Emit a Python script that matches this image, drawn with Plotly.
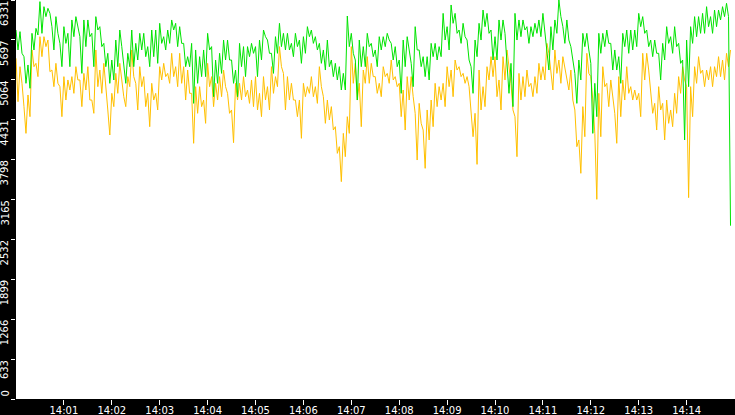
import pandas as pd
import plotly.graph_objects as go

# two samples per 5 s step (upper / lower reading of each column), 14:00:00 -> 14:15:00
green = [
    5855, 5538, 5829, 5485, 5432, 5009, 5300, 4930, 5802, 5538,
    5881, 5776, 6305, 5802, 6225, 6067, 6199, 6119, 5908, 5538,
    6067, 5802, 5643, 5273, 5908, 5643, 5802, 5273, 6014, 5749,
    6067, 5908, 5749, 5167, 6014, 5591, 6014, 5749, 5802, 5273,
    6067, 5855, 5908, 5591, 5643, 5273, 5485, 5009, 5379, 5062,
    5696, 5273, 5855, 5591, 5273, 5009, 5485, 5273, 5855, 5273,
    5643, 5379, 5802, 5538, 5802, 5432, 5591, 5273, 5855, 5432,
    5855, 5326, 5961, 5643, 5749, 5538, 5855, 5643, 6014, 5855,
    5961, 5591, 5908, 5643, 5643, 5273, 5432, 5273, 5643, 4691,
    5538, 5009, 5432, 5115, 5538, 5115, 5802, 5538, 5591, 4797,
    5379, 5009, 5485, 5167, 5696, 5379, 5696, 5379, 5379, 5009,
    5220, 4797, 5643, 5273, 5591, 5115, 5591, 5432, 5643, 5485,
    5591, 5115, 5696, 5379, 5855, 5749, 5696, 5485, 5485, 5167,
    5749, 5485, 5961, 5591, 5802, 5538, 5802, 5538, 5643, 5432,
    5802, 5591, 5696, 5326, 5749, 5485, 5908, 5749, 5855, 5643,
    5749, 5538, 5643, 5326, 5538, 5220, 5696, 5273, 5379, 5115,
    5326, 5062, 5273, 4903, 5167, 4903, 6077, 5591, 5802, 5485,
    5379, 4744, 5696, 5273, 5591, 5273, 5802, 5591, 5643, 5432,
    5538, 5273, 5749, 5538, 5749, 5591, 5802, 5696, 5643, 5379,
    5591, 5273, 5379, 4850, 5696, 5273, 5749, 5538, 5326, 4956,
    5908, 5538, 5538, 5273, 5432, 5115, 5432, 5062, 5643, 5432,
    5643, 5379, 5591, 5432, 6119, 5696, 5908, 5538, 6252, 5961,
    6119, 5802, 5855, 5643, 5961, 5749, 5696, 5379, 5273, 4850,
    5696, 5432, 5961, 5696, 6172, 5908, 6119, 5802, 5855, 5379,
    5749, 5379, 6014, 5696, 6014, 5802, 5379, 4850, 5326, 4639,
    6119, 5696, 6014, 5749, 6014, 5855, 5908, 5643, 5908, 5749,
    5961, 5802, 6014, 5749, 6119, 5802, 5538, 5220, 5908, 5538,
    6014, 5802, 6331, 6067, 5908, 5643, 6014, 5696, 5591, 5379,
    5167, 4691, 5379, 5062, 5802, 5591, 5802, 5538, 5326, 4215,
    5009, 4480, 5802, 5485, 5802, 5591, 5855, 5643, 5643, 5220,
    5538, 5220, 5432, 5009, 5802, 5591, 5855, 5485, 5855, 5538,
    5855, 5591, 6119, 5908, 6067, 5802, 5855, 5591, 5696, 5432,
    5696, 5485, 5485, 5062, 5643, 5379, 5908, 5643, 5749, 5485,
    5908, 5591, 5643, 5326, 5379, 4110, 5696, 4956, 5908, 5643,
    6067, 5749, 6067, 5802, 6119, 5802, 6225, 5908, 6067, 5802,
    6172, 5908, 6172, 6014, 6225, 6067, 6278, 6067, 2750,
]

orange = [
    5406, 4718, 5273, 5009, 4639, 4215, 4824, 4480, 5538, 5273,
    5326, 5115, 5749, 5432, 5749, 5591, 5696, 5194, 5220, 4956,
    5326, 5009, 4956, 4480, 5115, 4744, 5062, 4903, 5115, 4850,
    5273, 5062, 5062, 4639, 5167, 4903, 5273, 4744, 4744, 4533,
    5538, 4956, 5220, 4850, 5326, 5009, 4586, 4189, 4850, 4639,
    5167, 4850, 5326, 5062, 4797, 4639, 5115, 4956, 5538, 5115,
    5009, 4586, 5273, 4956, 5115, 4639, 4850, 4321, 5009, 4744,
    4850, 4586, 5273, 5062, 5326, 5115, 5167, 5009, 5485, 5115,
    5273, 4956, 5485, 5009, 5273, 4744, 5220, 4850, 4850, 4057,
    4956, 4533, 4956, 4639, 4744, 4374, 5326, 4956, 5115, 4639,
    5009, 4744, 5115, 4797, 5220, 4956, 4850, 4533, 4586, 4067,
    5009, 4744, 5009, 4744, 5115, 4797, 4903, 4691, 5062, 4639,
    5115, 4586, 4850, 4480, 5115, 4744, 4956, 4586, 5273, 4850,
    5115, 4956, 5591, 5273, 5167, 4586, 5115, 4744, 5009, 4744,
    4744, 4480, 4744, 4136, 5009, 4797, 4956, 4850, 5115, 4797,
    4956, 4691, 5273, 4956, 4797, 4374, 4744, 4427, 4639, 4268,
    4321, 3898, 4004, 3449, 4215, 3845, 4480, 4215, 5591, 5009,
    5326, 4744, 5009, 4321, 5220, 5009, 5432, 5009, 5326, 5115,
    5115, 4850, 5009, 4797, 5273, 5115, 5167, 5009, 5379, 5062,
    5115, 4956, 5009, 4480, 4903, 4268, 5115, 4744, 5115, 4797,
    4533, 3792, 4691, 4374, 4268, 3660, 4586, 4110, 4744, 4321,
    5009, 4639, 4956, 4744, 5009, 4639, 5273, 4956, 5220, 4797,
    5379, 5220, 5273, 5115, 5167, 5009, 5115, 4956, 4480, 4162,
    4533, 3723, 5220, 4586, 4956, 4639, 5273, 5062, 5432, 5115,
    5432, 4797, 5062, 4586, 5432, 5062, 5538, 5273, 5009, 4586,
    4480, 3845, 5167, 4744, 5115, 4797, 5220, 4956, 5009, 4797,
    5115, 4850, 5326, 5062, 5273, 5062, 5643, 5485, 5220, 4903,
    5538, 5167, 5379, 5009, 5432, 5273, 5115, 4903, 5220, 4744,
    4586, 4004, 4110, 3581, 4639, 4162, 5485, 5167, 5115, 4744,
    4215, 3168, 4850, 4162, 5273, 4956, 5009, 4639, 5062, 4744,
    4533, 4057, 5115, 4480, 5062, 4744, 5273, 4850, 4956, 4744,
    4903, 4744, 4850, 4480, 5485, 5062, 5485, 5220, 4850, 4533,
    4691, 4268, 4956, 4586, 4691, 4110, 4744, 4374, 4586, 4321,
    4850, 4533, 5115, 4850, 5273, 5062, 4956, 3195, 4956, 4480,
    5273, 5009, 5432, 5167, 5220, 4956, 5220, 5062, 5273, 4956,
    5273, 5115, 5432, 5115, 5379, 5062, 5485, 5273, 5538, 5432, 0,
]

times = pd.date_range("2024-01-01 14:00:00", periods=len(green), freq="2500ms")

x_tick_vals = pd.date_range("2024-01-01 14:01:00", "2024-01-01 14:14:00", freq="1min")
x_tick_text = [t.strftime("%H:%M") for t in x_tick_vals]

y_tick_vals = [0, 633.1, 1266.2, 1899.3, 2532.4, 3165.5, 3798.6, 4431.7, 5064.8, 5697.9, 6331]
y_tick_text = ["0", "633", "1266", "1899", "2532", "3165", "3798", "4431", "5064", "5697", "6331"]

font = dict(family="DejaVu Sans, Verdana, sans-serif", size=10, color="white")

fig = go.Figure()
fig.add_trace(go.Scatter(x=times, y=orange, mode="lines", line=dict(color="#ffc000", width=1),
                         hoverinfo="skip", showlegend=False))
fig.add_trace(go.Scatter(x=times, y=green, mode="lines", line=dict(color="#00e400", width=1),
                         hoverinfo="skip", showlegend=False))

# rotated y labels hang just below their tick (the bottom one sits above it)
for i, (v, t) in enumerate(zip(y_tick_vals, y_tick_text)):
    fig.add_annotation(x=0, xref="paper", y=v, yref="y", text=t, showarrow=False,
                       textangle=-90, font=font, xanchor="right", xshift=-4,
                       yanchor="bottom" if i == 0 else "top", yshift=0 if i == 0 else 1)

fig.update_layout(
    width=735, height=415,
    margin=dict(l=16, r=0, t=0, b=16),
    paper_bgcolor="black", plot_bgcolor="white",
    showlegend=False,
    xaxis=dict(type="date", range=["2024-01-01 14:00:00", "2024-01-01 14:15:00.6"],
               tickvals=x_tick_vals, ticktext=x_tick_text,
               ticks="outside", ticklen=5, tickcolor="white", tickfont=font,
               ticklabelstandoff=-3,
               showgrid=False, zeroline=False, showline=False, automargin=False),
    yaxis=dict(range=[0, 6331], tickvals=y_tick_vals, showticklabels=False,
               ticks="outside", ticklen=4, tickcolor="white",
               showgrid=False, zeroline=False, showline=False, automargin=False),
)

fig.write_html("out.html", config={"displayModeBar": False},
               post_script="document.body.style.margin='0';")
